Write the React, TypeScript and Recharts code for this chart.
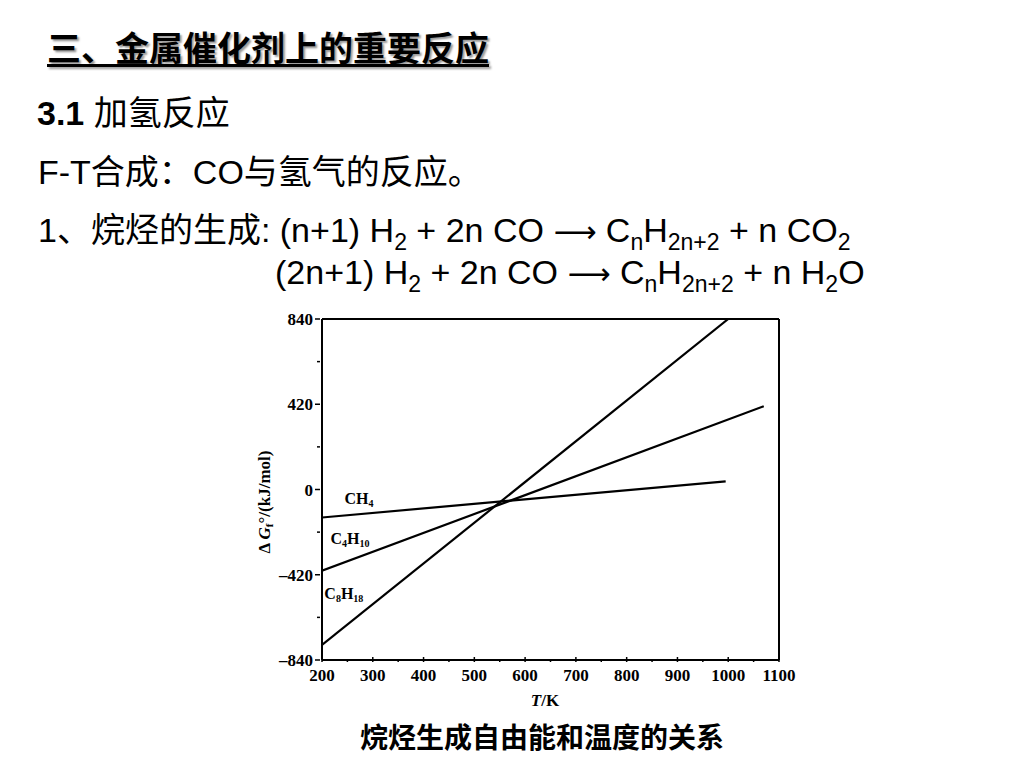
import React from "react";
import { LineChart, Line, XAxis, YAxis, ReferenceDot, ReferenceLine } from "recharts";

// ΔG values (kJ/mol) at the ends of each line
const ch4 = [
  { t: 200, g: -138 },
  { t: 995, g: 40 },
];
const c4h10 = [
  { t: 200, g: -400 },
  { t: 1070, g: 410 },
];
const c8h18 = [
  { t: 200, g: -766 },
  { t: 1000, g: 840 },
];

const xTicks = [200, 250, 300, 350, 400, 450, 500, 550, 600, 650, 700, 750, 800, 850, 900, 950, 1000, 1050, 1100];
const yTicks = [-840, -630, -420, -210, 0, 210, 420, 630, 840];
const xMajor = [200, 300, 400, 500, 600, 700, 800, 900, 1000, 1100];
const yMajor = [-840, -420, 0, 420, 840];

const seriesLabels = [
  { t: 273, g: -44, base: "CH", sub: "4" },
  { t: 255, g: -237, base: "C", mid: "4", base2: "H", sub: "10" },
  { t: 243, g: -509, base: "C", mid: "8", base2: "H", sub: "18" },
];

const serif = "'Liberation Serif', 'DejaVu Serif', serif";
const cjk = "'Liberation Sans', 'Noto Sans CJK SC', sans-serif";

const XTick = (props: any) => {
  const { x, y, payload } = props;
  const major = xMajor.includes(payload.value);
  return (
    <g>
      <line x1={x} x2={x} y1={y - 6} y2={y - 6 - (major ? 5 : 3)} stroke="#000" strokeWidth={1.5} />
      {major && (
        <text x={x} y={y + 13} textAnchor="middle" fontFamily={serif} fontWeight="bold" fontSize={17} fill="#000">
          {payload.value}
        </text>
      )}
    </g>
  );
};

const YTick = (props: any) => {
  const { x, y, payload } = props;
  const major = yMajor.includes(payload.value);
  const label = payload.value < 0 ? "\u2013" + Math.abs(payload.value) : String(payload.value);
  return (
    <g>
      <line x1={x + 6} x2={x + 6 - (major ? 5 : 3)} y1={y} y2={y} stroke="#000" strokeWidth={1.5} />
      {major && (
        <text x={x - 1} y={y + 6} textAnchor="end" fontFamily={serif} fontWeight="bold" fontSize={17} fill="#000">
          {label}
        </text>
      )}
    </g>
  );
};

const SeriesLabel = (item: any) => (props: any) => {
  const { cx, cy } = props;
  return (
    <text x={cx} y={cy + 6} textAnchor="middle" fontFamily={serif} fontWeight="bold" fontSize={16} fill="#000">
      {item.base}
      {item.mid && (
        <tspan fontSize={10} dy={3} fill="#000">
          {item.mid}
        </tspan>
      )}
      {item.base2 && (
        <tspan fontSize={16} dy={-3} fill="#000">
          {item.base2}
        </tspan>
      )}
      <tspan fontSize={10} dy={3} fill="#000">
        {item.sub}
      </tspan>
    </text>
  );
};

const Sub = ({ children }: { children: React.ReactNode }) => (
  <span style={{ fontSize: 23, verticalAlign: -8 }}>{children}</span>
);

const Arrow = () => (
  <span style={{ fontFamily: "'DejaVu Sans', sans-serif", fontSize: 30 }}>⟶</span>
);

export default function App() {
  const lineText: React.CSSProperties = {
    position: "absolute",
    fontFamily: cjk,
    fontSize: 34,
    lineHeight: 1,
    color: "#000",
    whiteSpace: "nowrap",
  };
  return (
    <div style={{ position: "absolute", left: 0, top: 0, width: 1024, height: 768, background: "#fff", overflow: "hidden" }}>
      <div
        style={{
          ...lineText,
          left: 47,
          top: 30,
          fontSize: 34,
          fontWeight: "bold",
          fontFamily: "'Noto Sans CJK SC', sans-serif",
          textDecoration: "underline",
          textUnderlineOffset: 3,
          textShadow: "2px 2px 2px #9a9a9a",
        }}
      >
        三、金属催化剂上的重要反应
      </div>
      <div style={{ ...lineText, left: 37, top: 96 }}>
        <b>3.1</b> 加氢反应
      </div>
      <div style={{ ...lineText, left: 38, top: 155 }}>F-T合成：CO与氢气的反应。</div>
      <div style={{ ...lineText, left: 38, top: 213 }}>
        1、烷烃的生成: (n+1) H<Sub>2</Sub> + 2n CO <Arrow /> C<Sub>n</Sub>H<Sub>2n+2</Sub> + n CO<Sub>2</Sub>
      </div>
      <div style={{ ...lineText, left: 275, top: 255 }}>
        (2n+1) H<Sub>2</Sub> + 2n CO <Arrow /> C<Sub>n</Sub>H<Sub>2n+2</Sub> + n H<Sub>2</Sub>O
      </div>

      <div style={{ position: "absolute", left: 0, top: 0 }}>
        <LineChart width={1024} height={768} margin={{ top: 319, right: 245, left: 262, bottom: 68 }}>
          <XAxis
            xAxisId="b"
            type="number"
            dataKey="t"
            domain={[200, 1100]}
            ticks={xTicks}
            interval={0}
            height={40}
            axisLine={{ stroke: "#000", strokeWidth: 2 }}
            tickLine={false}
            tick={<XTick />}
            allowDataOverflow
          />
          <YAxis
            yAxisId="l"
            type="number"
            domain={[-840, 840]}
            ticks={yTicks}
            interval={0}
            width={60}
            axisLine={{ stroke: "#000", strokeWidth: 2 }}
            tickLine={false}
            tick={<YTick />}
            allowDataOverflow
          />
          <ReferenceLine xAxisId="b" yAxisId="l" y={840} stroke="#000" strokeWidth={2} />
          <ReferenceLine xAxisId="b" yAxisId="l" x={1100} stroke="#000" strokeWidth={2} />
          <Line xAxisId="b" yAxisId="l" data={ch4} dataKey="g" stroke="#000" strokeWidth={2.2} dot={false} isAnimationActive={false} />
          <Line xAxisId="b" yAxisId="l" data={c4h10} dataKey="g" stroke="#000" strokeWidth={2.2} dot={false} isAnimationActive={false} />
          <Line xAxisId="b" yAxisId="l" data={c8h18} dataKey="g" stroke="#000" strokeWidth={2.2} dot={false} isAnimationActive={false} />
          {seriesLabels.map((s) => (
            <ReferenceDot key={s.sub + s.base} xAxisId="b" yAxisId="l" x={s.t} y={s.g} r={0} shape={SeriesLabel(s)} />
          ))}
        </LineChart>
      </div>

      <svg style={{ position: "absolute", left: 0, top: 0 }} width={1024} height={768} pointerEvents="none">
        <text
          transform="translate(270,502) rotate(-90)"
          textAnchor="middle"
          fontFamily={serif}
          fontWeight="bold"
          fontSize={17}
          fill="#000"
        >
          Δ <tspan fontStyle="italic" fill="#000">G</tspan>
          <tspan fontSize={11} dy={3} fill="#000">f</tspan>
          <tspan dy={-3} fill="#000">°/(kJ/mol)</tspan>
        </text>
        <text x={545} y={706} textAnchor="middle" fontFamily={serif} fontWeight="bold" fontSize={17} fill="#000">
          <tspan fontStyle="italic" fill="#000">T</tspan>/K
        </text>
        <text
          x={542}
          y={748}
          textAnchor="middle"
          fontFamily="'Noto Sans CJK SC', sans-serif"
          fontWeight="bold"
          fontSize={28}
          fill="#000"
        >
          烷烃生成自由能和温度的关系
        </text>
      </svg>
    </div>
  );
}
